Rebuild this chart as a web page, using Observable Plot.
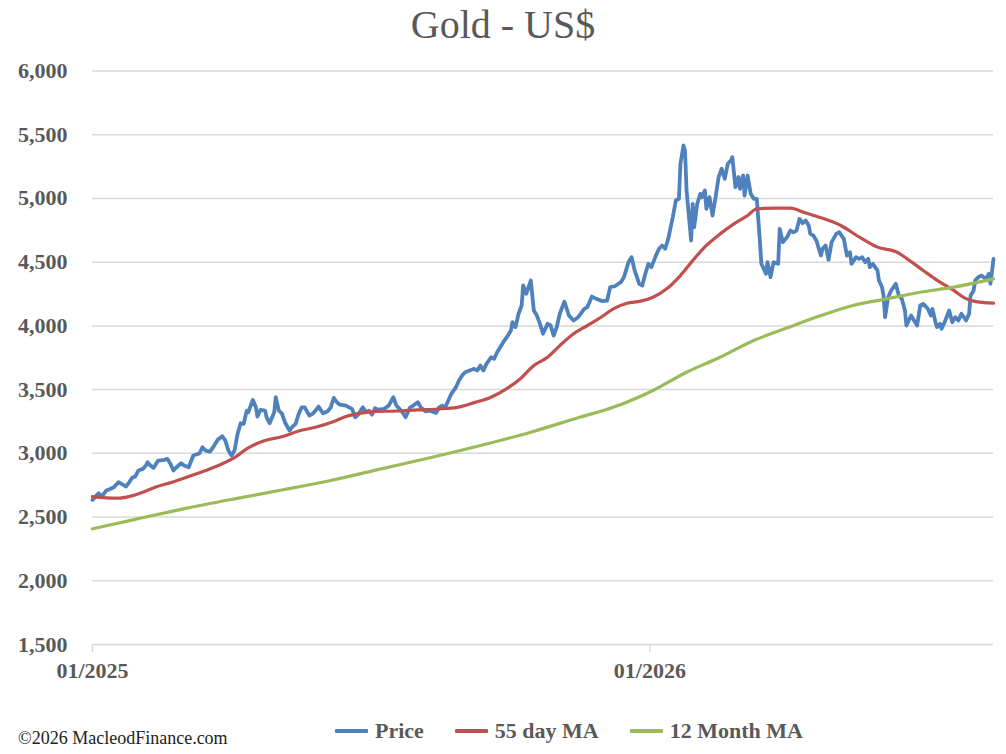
<!DOCTYPE html>
<html>
<head>
<meta charset="utf-8">
<script src="https://cdn.jsdelivr.net/npm/d3@7"></script>
<script src="https://cdn.jsdelivr.net/npm/@observablehq/plot@0.6"></script>
<style>
  html, body { margin: 0; padding: 0; background: #fff; }
  body { width: 1006px; height: 754px; overflow: hidden; font-family: "Liberation Serif", "DejaVu Serif", serif; }
  #title { height: 50px; line-height: 50px; text-align: center; font-size: 40px; color: #595959; }
  #chart { height: 650px; }
  #chart svg { display: block; }
  #footer { position: relative; height: 54px; }
  #copy { position: absolute; left: 18px; top: 29px; font-size: 18px; line-height: 18px; color: #222; white-space: nowrap; }
  #legend { position: absolute; left: 335px; top: 20px; display: flex; align-items: center; font-size: 22px; line-height: 22px; font-weight: bold; color: #595959; }
  .item { display: flex; align-items: center; margin-right: 31px; white-space: nowrap; }
  .swatch { width: 33px; height: 4px; margin-right: 7px; border-radius: 1px; }
</style>
</head>
<body>
<div id="title">Gold - US$</div>
<div id="chart"></div>
<div id="footer">
  <div id="copy">©2026 MacleodFinance.com</div>
  <div id="legend"></div>
</div>
<script>
// Days since 1 Jan 2025 and values
const priceDay = [
  0,4,6,9,12,14,17,19,22,24, 26,28,30,33,35,36,38,40,41,43,
  47,49,51,53,55,58,60,63,66,70, 72,74,77,79,82,85,87,89,91,93,
  95,97,99,101,102,105,107,108,110,113, 114,116,119,120,122,124,126,129,131,133,
  135,137,139,142,144,146,148,151,154,156, 158,160,162,166,168,170,172,174,177,179,
  181,183,185,187,191,194,197,199,201,203, 205,208,210,213,215,218,221,225,227,229,
  231,233,235,238,240,242,244,247,250,252, 254,256,258,261,263,265,267,269,272,274,
  275,277,279,281,282,284,287,289,291,293, 295,298,300,302,304,306,309,312,315,318,
  322,324,327,330,334,337,339,342,346,348, 351,353,355,358,360,362,364,366,369,371,
  373,375,377,380,382,384,385,387,388,389, 391,392,393,394,396,398,399,401,402,404,
  406,408,410,412,414,416,418,419,421,423, 424,426,427,429,431,433,435,437,438,441,
  442,444,446,449,450,452,455,457,459,461, 463,465,467,469,470,472,474,477,478,480,
  482,484,487,489,492,494,496,497,500,502, 504,506,508,509,511,514,515,517,518,519,
  521,523,526,528,530,532,533,536,538,540, 542,544,547,549,550,552,553,555,556,558,
  561,563,565,567,569,572,574,575,577,578, 580,582,585,587,588,589,590
];
const priceValue = [
  2635,2687,2661,2708,2722,2734,2773,2760,2740,2773, 2808,2818,2865,2878,2904,2930,2904,2886,2904,2943,
  2949,2957,2918,2865,2891,2922,2904,2891,2983,2999, 3048,3022,3014,3048,3106,3134,3100,3022,2983,3022,
  3152,3236,3231,3335,3322,3419,3362,3289,3341,3335, 3283,3236,3322,3440,3335,3314,3244,3179,3210,3231,
  3309,3361,3361,3296,3309,3335,3367,3314,3330,3361, 3435,3401,3382,3375,3361,3349,3283,3304,3361,3322,
  3335,3304,3354,3343,3349,3375,3440,3375,3349,3322, 3283,3361,3375,3401,3361,3330,3335,3317,3361,3375,
  3361,3414,3467,3519,3571,3611,3636,3650,3663,3650, 3689,3650,3702,3754,3741,3793,3833,3872,3924,3964,
  4029,3990,4095,4160,4317,4252,4356,4121,4081,4016, 3938,4016,4003,3924,3990,4095,4190,4081,4042,4068,
  4134,4147,4230,4212,4194,4199,4304,4311,4343,4382, 4500,4539,4435,4330,4317,4409,4487,4461,4553,4605,
  4631,4605,4683,4853,4984,4997,5272,5416,5376,5062, 4801,4670,4958,4774,4958,5036,5010,5062,4919,5010,
  4866,5010,5167,5233,5154,5272,5298,5324,5088,5167, 5076,5180,5023,5180,5036,4997,4997,4670,4487,4409,
  4500,4382,4500,4487,4762,4657,4700,4748,4735,4748, 4840,4806,4827,4788,4722,4709,4670,4552,4605,4631,
  4519,4657,4722,4735,4683,4552,4578,4487,4539,4526, 4539,4500,4526,4461,4487,4435,4356,4304,4238,4068,
  4225,4278,4330,4238,4212,4121,4003,4081,4042,4003, 4160,4173,4134,4081,4134,4029,3990,4016,3977,4029,
  4121,4029,4068,4042,4095,4042,4095,4238,4278,4356, 4382,4395,4369,4409,4330,4422,4526
];
const ma55Day = [
  0,9,17,24,33,41,52,63,74,85, 94,102,113,124,135,146,158,165,173,184,
  199,213,226,239,250,261,271,280,289,298, 306,315,324,333,341,350,359,367,376,385,
  394,402,411,420,429,435,446,457,466,474, 490,503,514,527,533,544,555,564,571,577, 590
];
const ma55Value = [
  2661,2651,2648,2661,2695,2734,2773,2818,2865,2918, 2975,3043,3100,3130,3175,3205,3250,3285,3310,3328,
  3332,3341,3348,3361,3398,3440,3506,3584,3689,3754, 3845,3938,4003,4068,4134,4178,4194,4225,4291,4395,
  4526,4631,4722,4801,4866,4919,4924,4924,4890,4860, 4788,4690,4618,4578,4530,4435,4343,4278,4220,4194, 4178
];
const ma12mDay = [0,28,61,94,124,156,189,221,254,287,319,341,367,389,411,433,455,477,498,520,542,564,590];
const ma12mValue = [2408,2482,2568,2645,2712,2787,2878,2965,3061,3166,3283,3361,3493,3636,3754,3885,3985,4081,4160,4212,4264,4304,4369];

const seriesNames = ["Price", "55 day MA", "12 Month MA"];
const seriesColors = ["#4F81BD", "#C0504D", "#9BBB59"];
const yTickValues = [1500, 2000, 2500, 3000, 3500, 4000, 4500, 5000, 5500, 6000];
const xTickLabels = ["2025-01-01", "2026-01-01"];
const lastDay = 590;

const start = new Date(Date.UTC(2025, 0, 1));
const toDate = d => d3.utcDay.offset(start, d);
const build = (days, vals, name) => days.map((d, i) => ({date: toDate(d), value: vals[i], series: name}));

const priceData = build(priceDay, priceValue, seriesNames[0]);
const ma55Data = build(ma55Day, ma55Value, seriesNames[1]);
const ma12Data = build(ma12mDay, ma12mValue, seriesNames[2]);

const font = '"Liberation Serif", "DejaVu Serif", serif';

const chart = Plot.plot({
  width: 1006,
  height: 650,
  marginTop: 20.5,
  marginBottom: 56,
  marginLeft: 92,
  marginRight: 13,
  style: {fontFamily: font, background: "transparent", color: "#595959", overflow: "visible"},
  x: {type: "utc", domain: [start, toDate(lastDay)], label: null},
  y: {domain: [1500, 6000], label: null},
  marks: [
    Plot.ruleY(yTickValues, {stroke: "#d9d9d9", strokeWidth: 1.5}),
    Plot.axisY({ticks: yTickValues, tickFormat: d3.format(","), tickSize: 0, tickPadding: 25, label: null,
      fontSize: 22, fontWeight: "bold", fill: "#595959"}),
    Plot.axisX({ticks: xTickLabels.map(s => new Date(s + "T00:00:00Z")), tickFormat: d3.utcFormat("%m/%Y"),
      tickSize: 8, tickPadding: 10, stroke: "#d9d9d9", strokeWidth: 1.5, label: null,
      fontSize: 22, fontWeight: "bold", fill: "#595959"}),
    Plot.line(priceData, {x: "date", y: "value", stroke: seriesColors[0], strokeWidth: 3.8, strokeLinejoin: "round"}),
    Plot.line(ma55Data, {x: "date", y: "value", stroke: seriesColors[1], strokeWidth: 3.2, strokeLinejoin: "round", curve: "monotone-x"}),
    Plot.line(ma12Data, {x: "date", y: "value", stroke: seriesColors[2], strokeWidth: 3.2, strokeLinejoin: "round", curve: "monotone-x"})
  ]
});
document.getElementById("chart").appendChild(chart);

const legend = document.getElementById("legend");
seriesNames.forEach((name, i) => {
  const item = document.createElement("div");
  item.className = "item";
  const sw = document.createElement("span");
  sw.className = "swatch";
  sw.style.background = seriesColors[i];
  const label = document.createElement("span");
  label.textContent = name;
  item.appendChild(sw);
  item.appendChild(label);
  legend.appendChild(item);
});
</script>
</body>
</html>
